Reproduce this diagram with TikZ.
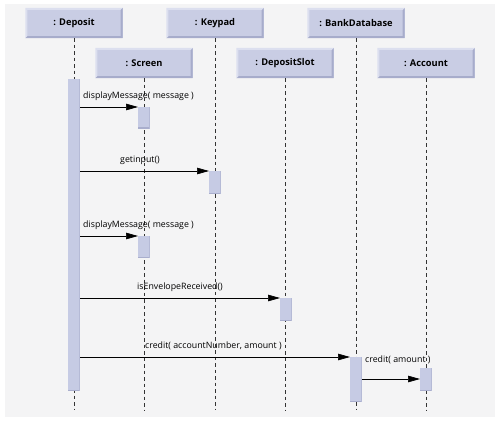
\documentclass[tikz,border=0pt]{standalone}
\usepackage{fontspec}
\setmainfont{Open Sans}
\usetikzlibrary{arrows.meta}
\definecolor{bg}{HTML}{F4F4F5}
\definecolor{boxfill}{HTML}{C9CDE4}
\definecolor{boxdark}{HTML}{A7ACCB}
\definecolor{boxlight}{HTML}{DCDFEF}
\definecolor{actfill}{HTML}{C6CBE4}
\definecolor{actdark}{HTML}{A9AECD}
\tikzset{
  x=1pt, y=-1pt,
  objbox/.style={draw=none, fill=boxfill, minimum width=97pt, minimum height=30pt, inner sep=0pt},
  objtext/.style={font=\fontsize{9.3}{10}\selectfont\bfseries, inner sep=0pt},
  life/.style={draw=black!80, line width=0.8pt, dash pattern=on 3.5pt off 3pt},
  msg/.style={draw=black, line width=0.7pt, -{Triangle[length=12pt,width=6.5pt]}},
  mlabel/.style={font=\fontsize{8.8}{10}\selectfont, inner sep=0pt, anchor=south west},
}
\newcommand{\objectbox}[4]{%
  \node[objbox] (#1) at (#2,#3) {};
  \fill[boxdark] (#1.south west) -- (#1.south east) -- (#1.north east) -- ([xshift=-2pt,yshift=-2pt]#1.north east) -- ([xshift=-2pt,yshift=2pt]#1.south east) -- ([xshift=2pt,yshift=2pt]#1.south west) -- cycle;
  \fill[boxlight] (#1.south west) -- (#1.north west) -- (#1.north east) -- ([xshift=-2pt,yshift=-2pt]#1.north east) -- ([xshift=2pt,yshift=-2pt]#1.north west) -- ([xshift=2pt,yshift=2pt]#1.south west) -- cycle;
  \node[objtext] at (#1.center) {#4};
}
\newcommand{\actbar}[4]{%
  \fill[actfill] (#2-6,#3) rectangle (#2+6,#4);
  \fill[actdark] (#2-6,#4-1.5) rectangle (#2+6,#4);
  \fill[actdark!60!actfill] (#2+4.5,#3) rectangle (#2+6,#4);
  \coordinate (#1-n) at (#2,#3);
}
\begin{document}
\begin{tikzpicture}
\useasboundingbox (0,0) rectangle (500,422);
\fill[bg] (5,4) rectangle (495,417);
% lifelines
\coordinate (lDep) at (74,410);
\coordinate (lScr) at (144,410);
\coordinate (lKey) at (215,410);
\coordinate (lSlot) at (285,410);
\coordinate (lBank) at (356,410);
\coordinate (lAcc) at (426,410);
\objectbox{dep}{74}{23}{: Deposit}
\objectbox{key}{215}{23}{: Keypad}
\objectbox{bank}{356}{23}{: BankDatabase}
\objectbox{scr}{144}{63}{: Screen}
\objectbox{slot}{285}{63}{: DepositSlot}
\objectbox{acc}{426}{63}{: Account}
\draw[life] (dep.south) -- (lDep);
\draw[life] (key.south) -- (lKey);
\draw[life] (bank.south) -- (lBank);
\draw[life] (scr.south) -- (lScr);
\draw[life] (slot.south) -- (lSlot);
\draw[life] (acc.south) -- (lAcc);
% activations
\actbar{aDep}{74}{79}{391}
\actbar{aScr1}{144}{107}{129}
\actbar{aKey}{215}{171}{194}
\actbar{aScr2}{144}{236}{258}
\actbar{aSlot}{286}{298}{321}
\actbar{aBank}{356}{357}{402}
\actbar{aAcc}{426}{368}{391}
% messages
\coordinate (m1s) at (80,107); \coordinate (m1e) at (138,107);
\draw[msg] (m1s) -- (m1e);
\node[mlabel] at (83,101) {displayMessage( message )};
\coordinate (m2s) at (80,171); \coordinate (m2e) at (209,171);
\draw[msg] (m2s) -- (m2e);
\node[mlabel] at (120,165) {getinput()};
\coordinate (m3s) at (80,236); \coordinate (m3e) at (138,236);
\draw[msg] (m3s) -- (m3e);
\node[mlabel] at (83,230) {displayMessage( message )};
\coordinate (m4s) at (80,298); \coordinate (m4e) at (280,298);
\draw[msg] (m4s) -- (m4e);
\node[mlabel] at (137,292) {isEnvelopeReceived()};
\coordinate (m5s) at (80,357); \coordinate (m5e) at (350,357);
\draw[msg] (m5s) -- (m5e);
\node[mlabel] at (145,350) {credit( accountNumber, amount )};
\coordinate (m6s) at (362,379); \coordinate (m6e) at (420,379);
\draw[msg] (m6s) -- (m6e);
\node[mlabel] at (365,364) {credit( amount )};
\end{tikzpicture}
\end{document}
